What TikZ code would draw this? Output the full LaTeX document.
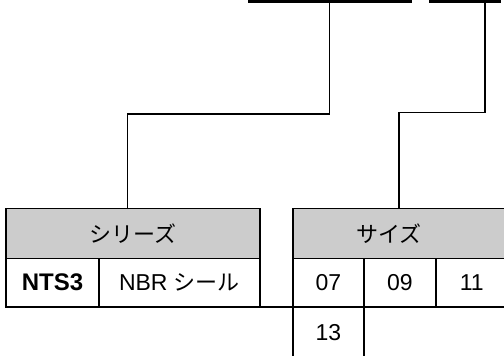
\documentclass[tikz,border=0pt]{standalone}
\usepackage{fontspec}
\setmainfont{Liberation Sans}
\newfontfamily\jpfont{Noto Sans CJK JP}
\usetikzlibrary{positioning}

\newcommand{\jp}[1]{{\fontsize{22}{26}\jpfont #1}}

\begin{document}
\begin{tikzpicture}[x=1pt, y=-1pt,
	cella/.style={draw, line width=1.6pt, anchor=north west, inner sep=0pt, outer sep=0pt,
		minimum height=48.4pt, font=\fontsize{23}{27}\selectfont},
	testa/.style={cella, fill=black!20, minimum height=50pt},
	linea/.style={line width=1.2pt},
	barra/.style={line width=3pt}]
	\useasboundingbox (0,0) rectangle (504,356);
	\clip (0,0) rectangle (504,356);
	%%%	Barre in alto
	\coordinate (b1a) at (248,1.5);
	\coordinate (b1b) at (411.7,1.5);
	\coordinate (b1) at (329.3,1.5);
	\coordinate (b2a) at (429,1.5);
	\coordinate (b2b) at (501,1.5);
	\coordinate (b2) at (485,1.5);
	\draw[barra] (b1a) -- (b1b);
	\draw[barra] (b2a) -- (b2b);
	
	% Serie
	\node[testa, minimum width=254pt] (serH) at (6,208.3) {\jp{シリーズ}};
	\node[cella, minimum width=93pt, font=\fontsize{24}{28}\selectfont\bfseries, below=0pt of serH.south west, anchor=north west] (nts) {NTS3};
	\node[cella, minimum width=161pt, right=0pt of nts] (nbr) {NBR \jp{シール}};
	
	% Taglia
	\node[testa, minimum width=214.4pt] (sizH) at (293,208.3) {};
	\node[inner sep=0pt] (sizT) at (389,233.3) {\jp{サイズ}};
	\node[cella, minimum width=71pt, right=33pt of nbr] (c07) {07};
	\node[cella, minimum width=72pt, right=0pt of c07] (c09) {09};
	\node[cella, minimum width=71.4pt, right=0pt of c09] (c11) {11};
	\node[cella, minimum width=71pt, minimum height=60pt, below=0pt of c07.south west, anchor=north west, text depth=9pt] (c13) {13};
	\draw[line width=1.6pt] (nbr.south east) -- (c07.south west);
	
	% Collegamenti
	\draw[linea] (b1) -- ++(0,112.5) -| ([xshift=121.5pt]serH.north west);
	\draw[linea] (b2) -- ++(0,110.8) -| ([xshift=106pt]sizH.north west);
\end{tikzpicture}
\end{document}
